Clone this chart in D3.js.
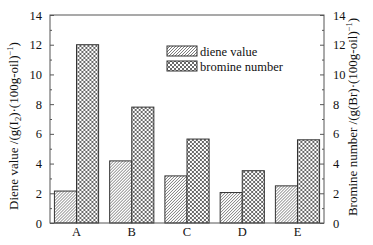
<!DOCTYPE html>
<html>
<head>
<meta charset="utf-8">
<script src="https://cdn.jsdelivr.net/npm/d3@7"></script>
<style>
  body { margin: 0; background: #fff; }
  svg { font-family: "Liberation Serif", "Times New Roman", serif; }
</style>
</head>
<body>
<div id="chart"></div>
<script>
const samples = ["A", "B", "C", "D", "E"];
const dieneValue = [2.15, 4.18, 3.17, 2.05, 2.5];
const bromineNumber = [12.0, 7.8, 5.65, 3.52, 5.6];
const yTicks = [0, 2, 4, 6, 8, 10, 12, 14];

const width = 373, height = 245;
const margin = { top: 15, right: 49, bottom: 22, left: 50 };
const axisColor = "#555";

const svg = d3.select("#chart")
    .append("svg")
    .attr("width", width)
    .attr("height", height);

const defs = svg.append("defs");

const hatch = defs.append("pattern")
    .attr("id", "hatch")
    .attr("patternUnits", "userSpaceOnUse")
    .attr("width", 3)
    .attr("height", 3);
hatch.append("rect").attr("width", 3).attr("height", 3).attr("fill", "#fff");
hatch.append("path")
    .attr("d", "M-1,1 l2,-2 M0,3 l3,-3 M2,4 l2,-2")
    .attr("stroke", "#444")
    .attr("stroke-width", 0.7);

const cross = defs.append("pattern")
    .attr("id", "cross")
    .attr("patternUnits", "userSpaceOnUse")
    .attr("width", 4)
    .attr("height", 4);
cross.append("rect").attr("width", 4).attr("height", 4).attr("fill", "#fff");
cross.append("path")
    .attr("d", "M0,0 L4,4 M4,0 L0,4")
    .attr("stroke", "#444")
    .attr("stroke-width", 0.8);

const x = d3.scaleBand()
    .domain(samples)
    .range([margin.left, width - margin.right])
    .paddingInner(0.2)
    .paddingOuter(0.08);

const xSub = d3.scaleBand()
    .domain(["diene", "bromine"])
    .range([0, x.bandwidth()]);

const y = d3.scaleLinear()
    .domain([0, 14])
    .range([height - margin.bottom, margin.top]);

const rows = samples.map((s, i) => ({ s, diene: dieneValue[i], bromine: bromineNumber[i] }));

const groups = svg.selectAll("g.grp")
    .data(rows)
    .enter()
    .append("g")
    .attr("transform", d => `translate(${x(d.s)},0)`);

groups.append("rect")
    .attr("x", xSub("diene"))
    .attr("y", d => y(d.diene))
    .attr("width", xSub.bandwidth())
    .attr("height", d => y(0) - y(d.diene))
    .attr("fill", "url(#hatch)")
    .attr("stroke", "#333")
    .attr("stroke-width", 1);

groups.append("rect")
    .attr("x", xSub("bromine"))
    .attr("y", d => y(d.bromine))
    .attr("width", xSub.bandwidth())
    .attr("height", d => y(0) - y(d.bromine))
    .attr("fill", "url(#cross)")
    .attr("stroke", "#333")
    .attr("stroke-width", 1);

// frame
svg.append("rect")
    .attr("x", margin.left)
    .attr("y", margin.top)
    .attr("width", width - margin.left - margin.right)
    .attr("height", height - margin.top - margin.bottom)
    .attr("fill", "none")
    .attr("stroke", axisColor)
    .attr("stroke-width", 1);

const minorTicks = d3.range(1, 14, 2);

function styleAxis(g) {
    g.select(".domain").remove();
    g.selectAll(".tick line").attr("stroke", axisColor);
    g.selectAll(".tick text")
        .attr("fill", "#111")
        .attr("font-size", "12.5px")
        .attr("font-family", "Liberation Serif, serif");
}

// left axis (ticks inward)
svg.append("g")
    .attr("transform", `translate(${margin.left},0)`)
    .call(d3.axisLeft(y).tickValues(yTicks).tickSize(-4).tickPadding(8))
    .call(styleAxis);
svg.append("g")
    .attr("transform", `translate(${margin.left},0)`)
    .call(d3.axisLeft(y).tickValues(minorTicks).tickSize(-2).tickFormat(""))
    .call(styleAxis);

// right axis (ticks inward)
svg.append("g")
    .attr("transform", `translate(${width - margin.right},0)`)
    .call(d3.axisRight(y).tickValues(yTicks).tickSize(-4).tickPadding(9))
    .call(styleAxis);
svg.append("g")
    .attr("transform", `translate(${width - margin.right},0)`)
    .call(d3.axisRight(y).tickValues(minorTicks).tickSize(-2).tickFormat(""))
    .call(styleAxis);

// bottom axis
svg.append("g")
    .attr("transform", `translate(0,${height - margin.bottom})`)
    .call(d3.axisBottom(x).tickSize(0).tickPadding(4))
    .call(styleAxis);

// axis titles
const leftTitle = svg.append("text")
    .attr("transform", `translate(18,${(margin.top + height - margin.bottom) / 2 + 7}) rotate(-90)`)
    .attr("text-anchor", "middle")
    .attr("font-size", "13px")
    .attr("fill", "#111");
leftTitle.append("tspan").text("Diene value /(g(I");
leftTitle.append("tspan").attr("font-size", "8.5px").attr("dy", 3).text("2");
leftTitle.append("tspan").attr("dy", -3).text(")·(100g-oil)");
leftTitle.append("tspan").attr("font-size", "8.5px").attr("dy", -5).text("−1");
leftTitle.append("tspan").attr("dy", 5).text(")");

const rightTitle = svg.append("text")
    .attr("transform", `translate(357,${(margin.top + height - margin.bottom) / 2 - 2}) rotate(-90)`)
    .attr("text-anchor", "middle")
    .attr("font-size", "13px")
    .attr("fill", "#111");
rightTitle.append("tspan").text("Bromine number /(g(Br)·(100g-oil)");
rightTitle.append("tspan").attr("font-size", "8.5px").attr("dy", -5).text("−1");
rightTitle.append("tspan").attr("dy", 5).text(")");

// legend
const legendItems = [
    { label: "diene value", fill: "url(#hatch)" },
    { label: "bromine number", fill: "url(#cross)" }
];
const legend = svg.selectAll("g.legend")
    .data(legendItems)
    .enter()
    .append("g")
    .attr("transform", (d, i) => `translate(167,${46 + i * 15})`);
legend.append("rect")
    .attr("width", 30)
    .attr("height", 10)
    .attr("fill", d => d.fill)
    .attr("stroke", "#333");
legend.append("text")
    .attr("x", 33)
    .attr("y", 9.5)
    .attr("font-size", "12.5px")
    .attr("fill", "#111")
    .text(d => d.label);
</script>
</body>
</html>
